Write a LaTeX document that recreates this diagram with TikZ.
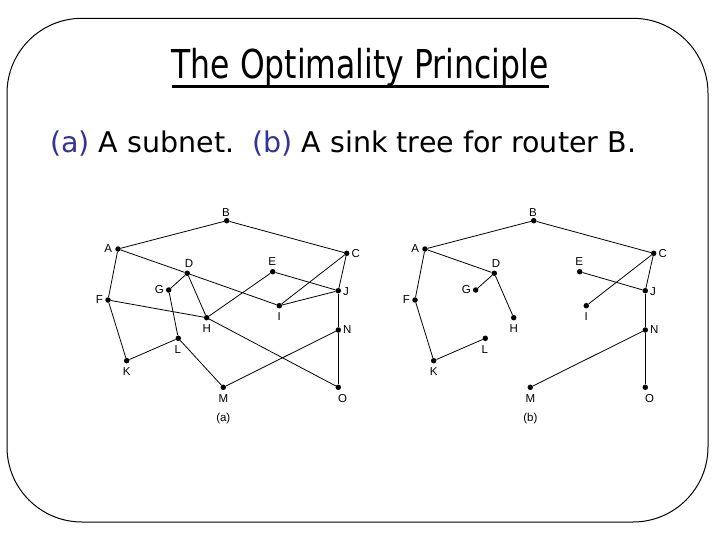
\documentclass[tikz,border=0pt]{standalone}
\usepackage{fontspec}
\setmainfont{DejaVu Sans}
\newfontfamily\titlefont[FakeStretch=0.79]{DejaVu Sans}
\newfontfamily\labelfont{Liberation Sans}
\definecolor{lblue}{RGB}{51,51,153}
\begin{document}
\begin{tikzpicture}[x=1pt,y=-1pt,
  router/.style={circle,fill=black,inner sep=0pt,minimum size=5.5pt},
  lbl/.style={font=\labelfont\fontsize{11.5}{13}\selectfont,inner sep=0pt},
  link/.style={line width=0.8pt},
  frame/.style={line width=1pt,rounded corners=75pt}]
\useasboundingbox (0,0) rectangle (720,540);
\draw[frame] (7,18.3) rectangle (708,522);
\node[font=\titlefont\fontsize{39.8}{44}\selectfont,inner sep=0pt,anchor=base] (title) at (360,78.3) {The Optimality Principle};
\draw[line width=2.5pt] ([yshift=-8.2pt]title.base west) -- ([yshift=-8.2pt]title.base east);
\node[font=\fontsize{28.5}{32}\selectfont,inner sep=0pt,anchor=base west] (sub) at (50,152.3) {\textcolor{lblue}{(a)} A subnet.\ \ \textcolor{lblue}{(b)} A sink tree for router B.};
\def\routers{B/226.7/220.7/226/212.7, A/118/249/108.3/248.3, C/346.7/253.3/355.7/253.3, D/187.3/273.3/189/263.3, E/272.7/271.7/272.3/262, G/168.7/290/159.3/290, J/338.3/290.7/346/291.7, F/108/300/99.3/299.3, I/279.3/305.7/279.3/316.7, H/206.7/317.7/206.7/328.3, N/338.3/330/347.3/330, L/178.3/338.3/177.7/349.3, K/126.7/360.7/126.7/371.7, M/223.3/387.3/223.3/399, O/338.3/387.3/342.7/399}
% (a) subnet
\foreach \n/\x/\y/\lx/\ly in \routers {
  \node[router] (a\n) at (\x,\y) {};
  \node[lbl] (a\n l) at (\lx,\ly) {\n};
}
\node[lbl] (capa) at (223.3,418.3) {(a)};
\foreach \u/\v in {A/B,B/C,A/F,A/D,D/I,C/I,C/J,E/J,E/H,D/G,D/H,G/L,F/H,H/O,F/K,K/L,L/M,M/N,J/N,N/O,I/J}
  \draw[link] (a\u) -- (a\v);
% (b) sink tree
\begin{scope}[xshift=307pt]
\foreach \n/\x/\y/\lx/\ly in \routers {
  \node[router] (b\n) at (\x,\y) {};
  \node[lbl] (b\n l) at (\lx,\ly) {\n};
}
\node[lbl] (capb) at (223.3,418.3) {(b)};
\end{scope}
\foreach \u/\v in {A/B,B/C,A/D,D/G,D/H,A/F,F/K,K/L,C/I,C/J,E/J,J/N,N/O,N/M}
  \draw[link] (b\u) -- (b\v);
\end{tikzpicture}
\end{document}
